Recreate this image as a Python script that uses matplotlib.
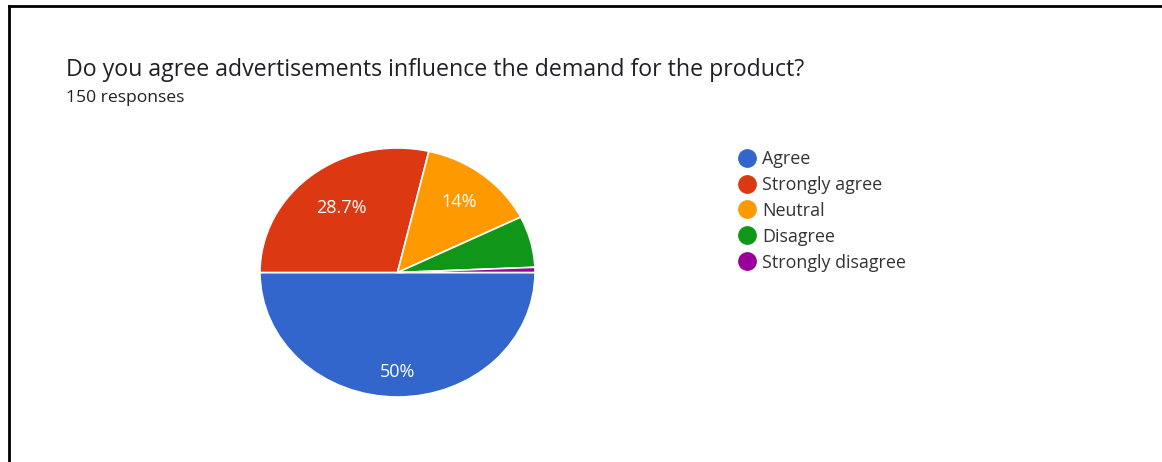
import matplotlib
matplotlib.use("Agg")
import numpy as np
import matplotlib.pyplot as plt
from matplotlib.lines import Line2D

plt.rcParams["font.family"] = ["Open Sans", "DejaVu Sans"]

question = "Do you agree advertisements influence the demand for the product?"
responses = 150
answers = ["Agree", "Strongly agree", "Neutral", "Disagree", "Strongly disagree"]
counts = [75, 43, 21, 10, 1]
colors = ["#3366cc", "#dc3912", "#ff9900", "#109618", "#990099"]

W, H = 1162, 462
fig = plt.figure(figsize=(W / 100, H / 100), dpi=100)


def px(x, y):
    # pixel (from top-left) -> figure fraction
    return x / W, 1 - y / H


def pct_label(p):
    if p < 10:
        return ""
    s = f"{p:.1f}"
    if s.endswith(".0"):
        s = s[:-2]
    return s + "%"


# pie is slightly wider than tall
left, top = px(260, 148)
right, bottom = px(535, 397)
ax = fig.add_axes([left, bottom, right - left, top - bottom])
wedges, texts, autotexts = ax.pie(
    counts, colors=colors, startangle=0, counterclock=False,
    autopct=pct_label,
    wedgeprops=dict(edgecolor="white", linewidth=1.2),
    textprops=dict(color="white", fontsize=13),
)
ax.set_aspect("auto")
ax.set_xlim(-1, 1)
ax.set_ylim(-1, 1)

# push each percentage label out along its wedge's bisector
label_r = [0.80, 0.66, 0.72, 0.7, 0.7]
for w, t, r in zip(wedges, autotexts, label_r):
    mid = np.deg2rad((w.theta1 + w.theta2) / 2)
    t.set_position((r * np.cos(mid), r * np.sin(mid)))

tx, ty = px(66, 76)
fig.text(tx, ty, question, fontsize=16.7, color="#202124", va="baseline", ha="left")
tx, ty = px(66, 102)
fig.text(tx, ty, f"{responses} responses", fontsize=12.6, color="#202124", va="baseline", ha="left")

handles = [Line2D([], [], marker="o", linestyle="none", markersize=12.5,
                  markerfacecolor=c, markeredgecolor=c) for c in colors]
lx, ly = px(736, 150)
fig.legend(handles, answers, loc="upper left", bbox_to_anchor=(lx, ly),
           frameon=False, fontsize=12.9, labelcolor="#333333",
           handletextpad=0.25, labelspacing=0.44, borderpad=0, borderaxespad=0,
           handlelength=1.2)

# page frame: top and left edges
x0, y0 = px(8.5, 6)
fig.add_artist(Line2D([x0, 1], [y0, y0], color="black", linewidth=2, transform=fig.transFigure))
fig.add_artist(Line2D([x0, x0], [y0, 0], color="black", linewidth=2, transform=fig.transFigure))

fig.savefig("out.png", dpi=100, facecolor="white")
